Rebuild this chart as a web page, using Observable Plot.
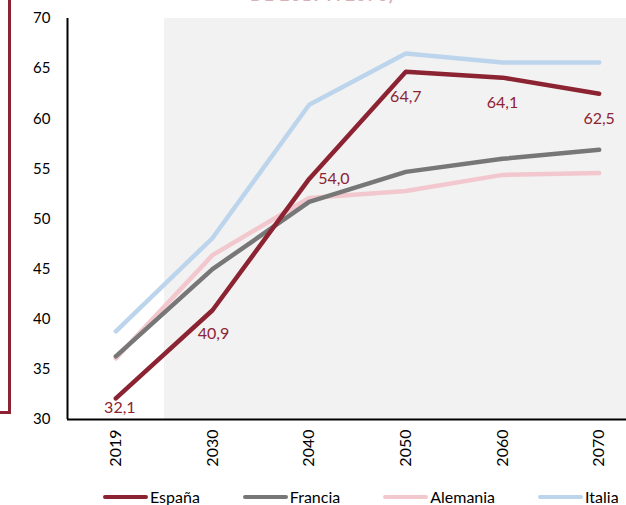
<!DOCTYPE html>
<html><head><meta charset="utf-8">
<script src="https://cdn.jsdelivr.net/npm/d3@7"></script>
<script src="https://cdn.jsdelivr.net/npm/@observablehq/plot@0.6"></script>
<style>
body{margin:0;background:#fff;font-family:Lato,"Open Sans",sans-serif;}
#wrap{position:relative;width:626px;height:505px;overflow:hidden;}
#chart{position:absolute;left:0;top:0;}
#title{position:absolute;left:250px;top:-16px;font-size:17px;font-weight:bold;color:#8C2332;opacity:.35;white-space:nowrap;letter-spacing:1px;}
#bracket{position:absolute;left:-3px;top:-3px;width:11px;height:414px;border-right:3px solid #8C2332;border-bottom:3px solid #8C2332;}
#legend{position:absolute;top:487px;left:103px;display:flex;gap:43px;font-size:16px;color:#000;}
.item{display:flex;align-items:center;}
.sw{width:45px;height:4px;border-radius:2px;margin-right:2px;}
</style></head><body>
<div id="wrap"><div id="title">DE 2019 A 2070)</div><div id="bracket"></div><div id="chart"></div><div id="legend"></div></div>
<script>
const years = ["2019","2030","2040","2050","2060","2070"];
const projectionYears = ["2030","2040","2050","2060","2070"];
const series = ["España","Francia","Alemania","Italia"];
const colors = ["#8C2332","#777777","#F2C8CE","#BDD5EC"];
const espana = [32.1,40.9,54.0,64.7,64.1,62.5];
const francia = [36.3,45.0,51.7,54.7,56.0,56.9];
const alemania = [36.1,46.4,52.1,52.8,54.4,54.6];
const italia = [38.8,48.1,61.4,66.5,65.6,65.6];
const yTicks = [30,35,40,45,50,55,60,65,70];
const yDomain = [30,70];

const valuesBySeries = {"España":espana,"Francia":francia,"Alemania":alemania,"Italia":italia};
const drawOrder = ["Italia","Alemania","Francia","España"];
const long = drawOrder.flatMap(s => valuesBySeries[s].map((v,i)=>({s, i, year: years[i], v})));
const espPts = espana.map((v,i)=>({i, year: years[i], v}));
const fmt = d => d.v.toFixed(1).replace(".", ",");
const red = colors[0];

const plot = Plot.plot({
  width: 626, height: 480,
  marginTop: 18, marginBottom: 61, marginLeft: 67, marginRight: 0,
  style: {fontFamily: "Lato, 'Open Sans', sans-serif", background: "transparent"},
  x: {type: "linear", domain: [-0.5, years.length - 0.5], range: [67, 647], label: null},
  y: {domain: yDomain, label: null},
  color: {domain: series, range: colors},
  marks: [
    Plot.rect(projectionYears, {x1: d => years.indexOf(d) - 0.5, x2: d => years.indexOf(d) + 0.5, y1: yDomain[0], y2: yDomain[1], fill: "#F2F2F2", shapeRendering: "crispEdges"}),
    Plot.axisY(yTicks, {tickSize: 0, tickPadding: 17, fontSize: 15, fill: "#000", label: null}),
    Plot.axisX(d3.range(years.length), {tickFormat: i => years[i], tickRotate: -90, tickSize: 0, tickPadding: 10, fontSize: 16, fill: "#000", label: null}),
    Plot.ruleY([yDomain[0]], {stroke: "#000", strokeWidth: 2}),
    Plot.ruleX([-0.5], {y1: yDomain[0], y2: yDomain[1], stroke: "#000", strokeWidth: 2}),
    Plot.line(long, {x: "i", y: "v", z: "s", stroke: "s", strokeWidth: 4.5, strokeLinecap: "round", strokeLinejoin: "round"}),
    Plot.text(espPts, {filter: d => ["2050","2060","2070"].includes(d.year), x: "i", y: "v", text: fmt, dy: 25, fill: red, fontSize: 16}),
    Plot.text(espPts, {filter: d => d.year === "2030", x: "i", y: "v", text: fmt, dy: 24, dx: 1, fill: red, fontSize: 16}),
    Plot.text(espPts, {filter: d => d.year === "2040", x: "i", y: "v", text: fmt, dx: 9, textAnchor: "start", fill: red, fontSize: 16}),
    Plot.text(espPts, {filter: d => d.year === "2019", x: "i", y: "v", text: fmt, dx: 4, dy: 9, fill: red, fontSize: 16})
  ]
});
document.getElementById("chart").appendChild(plot);

const legend = document.getElementById("legend");
series.forEach((s, k) => {
  const item = document.createElement("div");
  item.className = "item";
  const sw = document.createElement("span");
  sw.className = "sw";
  sw.style.background = colors[k];
  const lab = document.createElement("span");
  lab.textContent = s;
  item.appendChild(sw); item.appendChild(lab);
  legend.appendChild(item);
});
</script>
</body></html>
